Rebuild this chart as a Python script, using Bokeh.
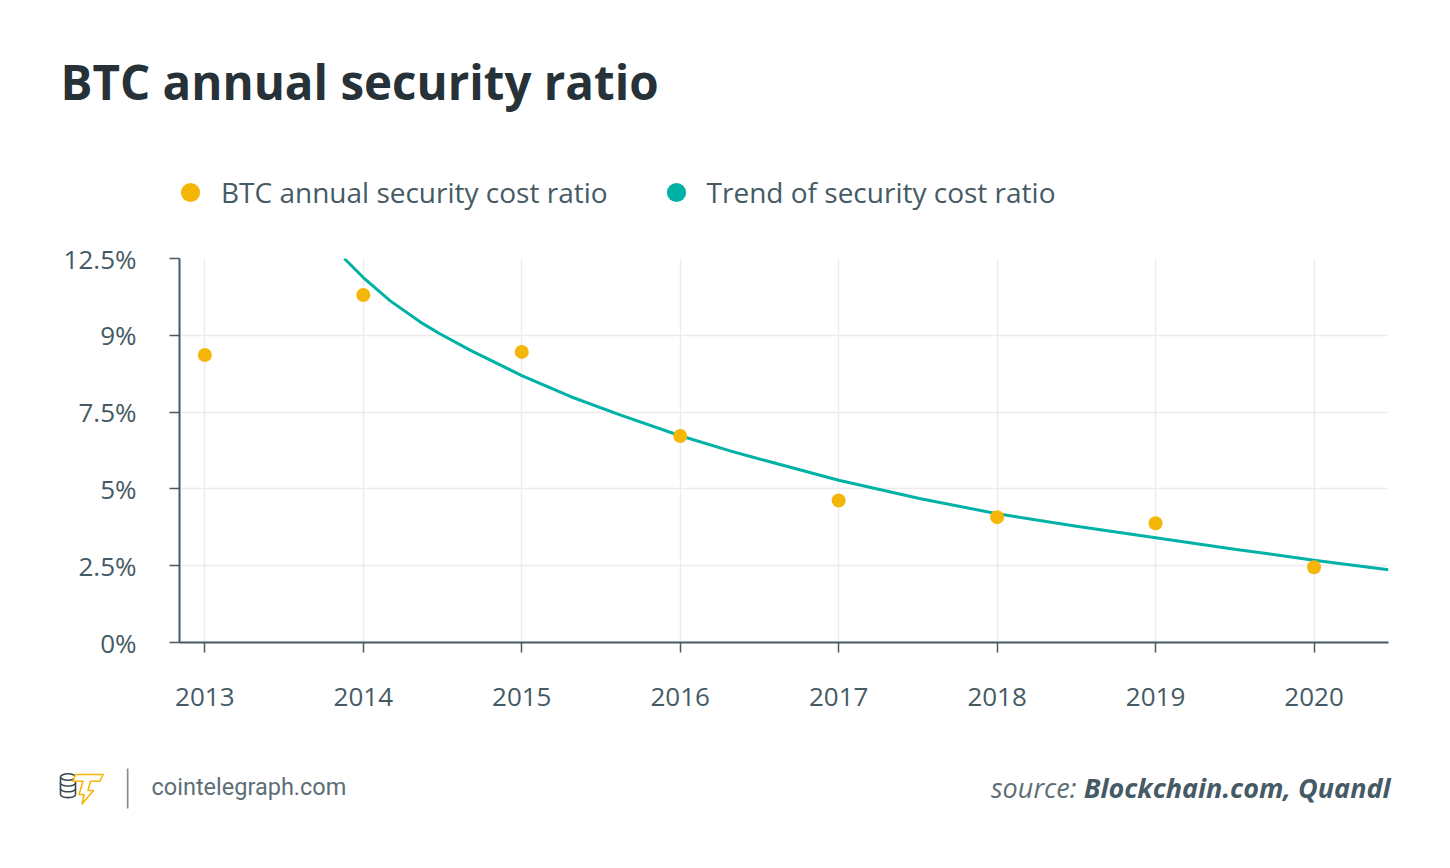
import numpy as np
from bokeh.plotting import figure
from bokeh.layouts import column
from bokeh.models import Range1d, FixedTicker, Legend, LegendItem
from bokeh.core.properties import value
from bokeh.embed import file_html
from bokeh.resources import INLINE

# ---------------- data ----------------
years = [2013, 2014, 2015, 2016, 2017, 2018, 2019, 2020]
security_ratio = [9.36, 11.31, 9.46, 6.72, 4.62, 4.08, 3.88, 2.45]

trend_years = [2013.88, 2014.0, 2014.17, 2014.36, 2014.48, 2014.68, 2015.0, 2015.31,
               2015.62, 2016.0, 2016.32, 2016.46, 2017.0, 2017.51, 2018.0, 2018.49,
               2019.0, 2019.51, 2020.0, 2020.47]
trend_ratio = [12.5, 11.88, 11.12, 10.43, 10.06, 9.5, 8.69, 8.0,
               7.41, 6.73, 6.23, 6.03, 5.28, 4.69, 4.19, 3.79,
               3.41, 3.03, 2.68, 2.37]

y_ticks = [0, 2.5, 5, 7.5, 10, 12.5]
y_tick_labels = ["0%", "2.5%", "5%", "7.5%", "9%", "12.5%"]
x_tick_labels = [str(y) for y in years]

series_names = ["BTC annual security cost ratio", "Trend of security cost ratio"]
title_text = "BTC annual security ratio"

TEXT = "#455a64"
TITLE = "#263238"
YELLOW = "#f5b60a"
TEAL = "#00b2a6"
GRID = "#ececec"
FONT = "Open Sans"

W = 1434
HEAD_H, MAIN_H, FOOT_H = 230, 500, 122
# frame in page coordinates
FL, FR, FT, FB = 179, 1388, 258, 642


def blank(height, y0):
    f = figure(width=W, height=height, output_backend="svg", toolbar_location=None,
               x_range=Range1d(0, W), y_range=Range1d(y0 + height, y0),
               x_axis_type=None, y_axis_type=None, frame_align=False,
               min_border_left=0, min_border_right=0, min_border_top=0, min_border_bottom=0)
    f.outline_line_color = None
    f.grid.visible = False
    f.background_fill_color = "white"
    f.border_fill_color = "white"
    return f


# ---------------- header: title + legend ----------------
head = blank(HEAD_H, 0)
head.text(x=[60], y=[80.5], text=[title_text], text_font=value(FONT),
          text_font_style="bold", text_font_size="47.5px", text_color=TITLE,
          text_baseline="alphabetic")
d1 = head.scatter([-500], [-500], size=14, fill_color=YELLOW, line_color=None)
d2 = head.scatter([-500], [-500], size=14, fill_color=TEAL, line_color=None)
legend = Legend(items=[LegendItem(label=series_names[0], renderers=[d1]),
                       LegendItem(label=series_names[1], renderers=[d2])],
                orientation="horizontal", location=(190 - 24, HEAD_H - (192 + 24)),
                glyph_width=48, glyph_height=48, label_standoff=7, spacing=44,
                padding=0, margin=0, border_line_color=None, background_fill_alpha=0,
                label_text_font=FONT, label_text_font_size="28px", label_text_color=TEXT)
head.add_layout(legend, "center")

# ---------------- main chart ----------------
p = figure(width=W, height=MAIN_H, output_backend="svg", toolbar_location=None,
           x_range=Range1d(2012.84, 2020.47), y_range=Range1d(0, 12.5), frame_align=False,
           min_border_left=FL, min_border_right=W - FR,
           min_border_top=FT - HEAD_H, min_border_bottom=HEAD_H + MAIN_H - FB)
p.outline_line_color = None
p.background_fill_color = "white"
p.border_fill_color = "white"

p.xaxis.ticker = FixedTicker(ticks=years)
p.xaxis.major_label_overrides = {y: s for y, s in zip(years, x_tick_labels)}
p.yaxis.ticker = FixedTicker(ticks=y_ticks)
p.yaxis.major_label_overrides = {t: s for t, s in zip(y_ticks, y_tick_labels)}
for ax in (p.xaxis, p.yaxis):
    ax.axis_line_color = TEXT
    ax.axis_line_width = 2
    ax.major_tick_line_color = TEXT
    ax.major_tick_line_width = 1.5
    ax.major_tick_out = 10
    ax.major_tick_in = 0
    ax.minor_tick_line_color = None
    ax.major_label_text_font = FONT
    ax.major_label_text_font_size = "26px"
    ax.major_label_text_color = TEXT
p.yaxis.major_label_standoff = 33
p.xaxis.major_label_standoff = 35

p.xgrid.ticker = FixedTicker(ticks=years)
p.ygrid.ticker = FixedTicker(ticks=y_ticks)
p.grid.grid_line_color = GRID
p.grid.grid_line_width = 1.5

p.line(trend_years, trend_ratio, line_color=TEAL, line_width=3, line_join="round")
p.scatter(years, security_ratio, size=14, fill_color=YELLOW, line_color=None)

# ---------------- footer ----------------
foot = blank(FOOT_H, HEAD_H + MAIN_H)
foot.text(x=[151], y=[786], text=["cointelegraph.com"], text_font=value("Roboto"),
          text_font_size="23.5px", text_color="#5d6e76", text_baseline="alphabetic")
foot.text(x=[1390], y=[786.5], text=["Blockchain.com, Quandl"], text_font=value(FONT),
          text_font_style="bold italic", text_font_size="27px", text_color=TEXT,
          text_align="right", text_baseline="alphabetic")
foot.text(x=[1076], y=[786.5], text=["source:"], text_font=value(FONT),
          text_font_style="italic", text_font_size="27px", text_color="#5d6e76",
          text_align="right", text_baseline="alphabetic")
# separator
foot.quad(left=[126.3], right=[128], top=[768], bottom=[808], fill_color="#8c8c8c",
          line_color=None)
# logo: coin stack
cx, rx, ry = 67.5, 7.5, 3.2
foot.ellipse(x=[cx], y=[776.5], width=2 * rx, height=2 * ry, fill_alpha=0,
             line_color="#37474f", line_width=1.6)
th = np.linspace(0, np.pi, 24)
for cy in (782.3, 788.1, 793.9):
    foot.line(cx + rx * np.cos(th), cy + ry * np.sin(th), line_color="#37474f",
              line_width=1.6)
foot.segment(x0=[cx - rx, cx + rx], y0=[776.5, 776.5], x1=[cx - rx, cx + rx],
             y1=[793.9, 793.9], line_color="#37474f", line_width=1.6)
# logo: lightning T
bolt_x = [75, 102.7, 99.3, 90, 87.5, 93, 81.7, 83.5, 78.5, 82.5, 72.5]
bolt_y = [774, 774, 780.7, 780.7, 790, 790, 803.3, 794, 794, 780.7, 780.7]
foot.patch(bolt_x, bolt_y, fill_color="white", line_color=YELLOW, line_width=1.6,
           line_join="round")

layout = column(head, p, foot, spacing=0)
open("out.html", "w").write(file_html(layout, INLINE))
